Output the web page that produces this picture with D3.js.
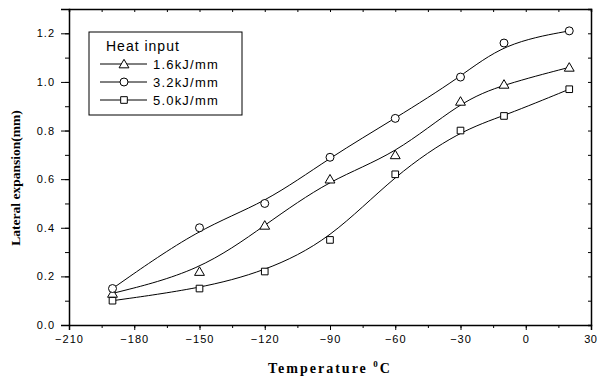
<!DOCTYPE html>
<html>
<head>
<meta charset="utf-8">
<script src="https://cdn.jsdelivr.net/npm/d3@7"></script>
<style>
  body { margin: 0; background: #fff; }
  svg { display: block; }
  .tick text { font-family: "Liberation Sans", Arial, sans-serif; font-size: 11px; letter-spacing: 1px; fill: #000; }
</style>
</head>
<body>
<div id="chart"></div>
<script>
// Data
const temps = [-190, -150, -120, -90, -60, -30, -10, 20];
const heat16 = [0.13, 0.22, 0.41, 0.60, 0.70, 0.92, 0.99, 1.06];
const heat32 = [0.15, 0.40, 0.50, 0.69, 0.85, 1.02, 1.16, 1.21];
const heat50 = [0.10, 0.15, 0.22, 0.35, 0.62, 0.80, 0.86, 0.97];
const seriesNames = ["1.6kJ/mm", "3.2kJ/mm", "5.0kJ/mm"];
const seriesSymbols = ["triangle", "circle", "square"];
const xTicks = [-210, -180, -150, -120, -90, -60, -30, 0, 30];
const yTicks = [0.0, 0.2, 0.4, 0.6, 0.8, 1.0, 1.2];

const w = 597, h = 380;
const m = { left: 69, right: 6, top: 9, bottom: 55 };

const svg = d3.select("#chart").append("svg")
  .attr("width", w)
  .attr("height", h);

const x = d3.scaleLinear().domain([-210, 30]).range([m.left, w - m.right]);
const y = d3.scaleLinear().domain([0, 1.3]).range([h - m.bottom, m.top]);

const xMinor = d3.range(-210, 31, 15);
const yMinor = d3.range(0, 1.31, 0.1);

// Axes: bottom/left with labels, top/right mirrored inward ticks
svg.append("g")
  .attr("transform", "translate(0," + (h - m.bottom) + ")")
  .call(d3.axisBottom(x).tickValues(xMinor).tickSize(3).tickFormat(""))
  .call(g => g.select(".domain").remove());
svg.append("g")
  .attr("transform", "translate(0," + (h - m.bottom) + ")")
  .call(d3.axisBottom(x).tickValues(xTicks).tickSize(5).tickPadding(5).tickFormat(d3.format("d")))
  .call(g => g.select(".domain").attr("stroke-width", 1.5))
  .call(g => g.selectAll(".tick text").filter(d => d === 30)
    .attr("text-anchor", "end").attr("x", 6).style("letter-spacing", "0.5px"));

svg.append("g")
  .attr("transform", "translate(" + m.left + ",0)")
  .call(d3.axisLeft(y).tickValues(yMinor).tickSize(4).tickFormat(""))
  .call(g => g.select(".domain").remove());
svg.append("g")
  .attr("transform", "translate(" + m.left + ",0)")
  .call(d3.axisLeft(y).tickValues(yTicks).tickSize(8).tickPadding(6).tickFormat(d3.format(".1f")))
  .call(g => g.select(".domain").attr("stroke-width", 1.5));

svg.append("g")
  .attr("transform", "translate(0," + m.top + ")")
  .call(d3.axisTop(x).tickValues(xMinor).tickSize(-3).tickFormat(""))
  .call(g => g.select(".domain").attr("stroke-width", 1.5));
svg.append("g")
  .attr("transform", "translate(" + (w - m.right) + ",0)")
  .call(d3.axisRight(y).tickValues(yMinor).tickSize(-3).tickFormat(""))
  .call(g => g.select(".domain").attr("stroke-width", 1.5));

svg.selectAll(".domain").attr("stroke", "#000");
svg.selectAll(".tick line").attr("stroke", "#000");

// Axis titles
svg.append("text")
  .attr("transform", "translate(20," + ((m.top + h - m.bottom) / 2 + 11) + ") rotate(-90)")
  .attr("text-anchor", "middle")
  .style("font-family", "'Liberation Serif', 'Times New Roman', serif")
  .style("font-weight", "bold")
  .style("font-size", "13.5px")
  .text("Lateral expansion(mm)");

const xt = svg.append("text")
  .attr("x", (m.left + w - m.right) / 2)
  .attr("y", 373)
  .attr("text-anchor", "middle")
  .style("font-family", "'Liberation Serif', 'Times New Roman', serif")
  .style("font-weight", "bold")
  .style("font-size", "14px")
  .style("letter-spacing", "2px");
xt.append("tspan").text("Temperature ");
xt.append("tspan").attr("dy", -6).style("font-size", "9px").text("0");
xt.append("tspan").attr("dy", 6).text("C");

// Series
const series = [heat16, heat32, heat50].map((vals, i) => ({
  name: seriesNames[i],
  symbol: seriesSymbols[i],
  points: temps.map((t, j) => [t, vals[j]])
}));

const line = d3.line()
  .x(d => x(d[0]))
  .y(d => y(d[1]))
  .curve(d3.curveBasis);

const symbolType = {
  triangle: d3.symbolTriangle,
  circle: d3.symbolCircle,
  square: d3.symbolSquare
};
const symbolSize = { triangle: 42, circle: 50, square: 44 };

const drawSymbol = (g, s, cx, cy) => {
  g.append("path")
    .attr("d", d3.symbol().type(symbolType[s]).size(symbolSize[s])())
    .attr("transform", "translate(" + cx + "," + (cy + (s === "triangle" ? 1 : 0)) + ")")
    .attr("fill", "#fff")
    .attr("stroke", "#000")
    .attr("stroke-width", 1);
};

series.forEach(s => {
  svg.append("path")
    .datum(s.points)
    .attr("fill", "none")
    .attr("stroke", "#000")
    .attr("stroke-width", 1)
    .attr("d", line);
  const g = svg.append("g");
  s.points.forEach(p => drawSymbol(g, s.symbol, x(p[0]), y(p[1])));
});

// Legend
const lg = svg.append("g").attr("transform", "translate(89,32)");
lg.append("rect")
  .attr("width", 153)
  .attr("height", 83)
  .attr("fill", "#fff")
  .attr("stroke", "#000")
  .attr("stroke-width", 1);
lg.append("text")
  .attr("x", 17)
  .attr("y", 19)
  .style("font-family", "'Liberation Sans', Arial, sans-serif")
  .style("font-size", "14px")
  .style("letter-spacing", "1px")
  .text("Heat input");
series.forEach((s, i) => {
  const cy = 32 + i * 18;
  lg.append("line")
    .attr("x1", 11).attr("x2", 58)
    .attr("y1", cy).attr("y2", cy)
    .attr("stroke", "#000");
  drawSymbol(lg, s.symbol, 35, cy);
  lg.append("text")
    .attr("x", 64)
    .attr("y", cy + 5)
    .style("font-family", "'Liberation Sans', Arial, sans-serif")
    .style("font-size", "13px")
    .style("letter-spacing", "1.2px")
    .text(s.name);
});
</script>
</body>
</html>
